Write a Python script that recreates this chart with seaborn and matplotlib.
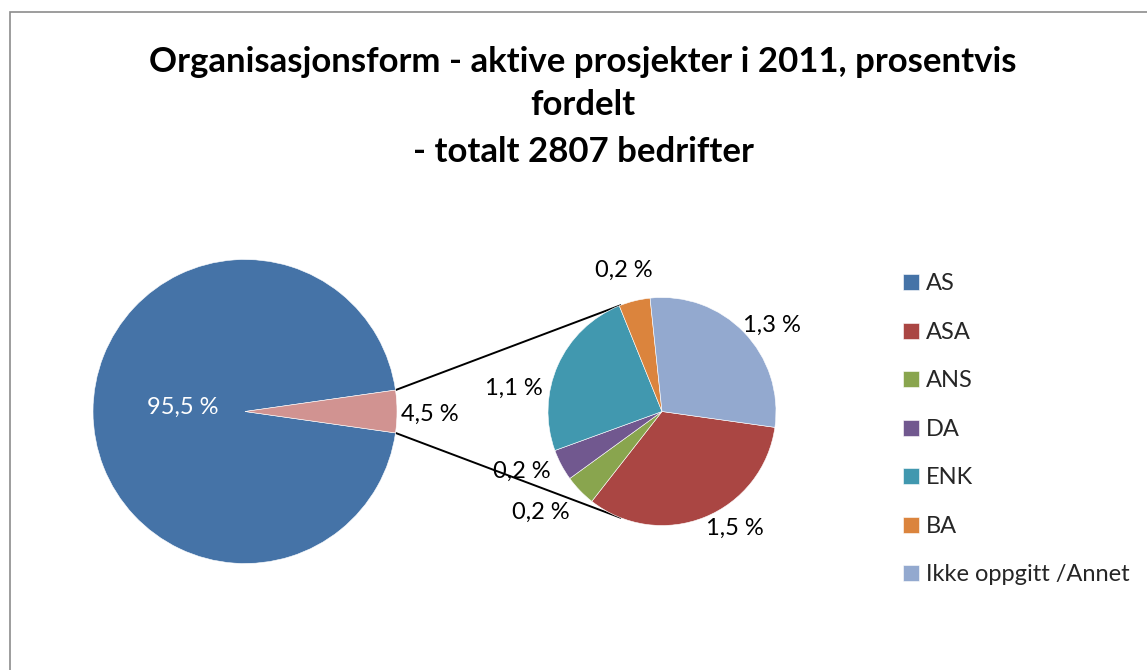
import numpy as np
import matplotlib
matplotlib.use("Agg")
import matplotlib.pyplot as plt
from matplotlib.patches import Rectangle
import seaborn as sns

# ---- data -------------------------------------------------------------
main_label = "AS"
main_value = 95.5
sub_labels = ["ASA", "ANS", "DA", "ENK", "BA", "Ikke oppgitt /Annet"]
sub_values = [1.5, 0.2, 0.2, 1.1, 0.2, 1.3]
title_lines = ["Organisasjonsform - aktive prosjekter i 2011, prosentvis",
               "fordelt",
               "- totalt 2807 bedrifter"]

# ---- style ------------------------------------------------------------
sns.set_theme(style="white")
plt.rcParams["font.family"] = ["Lato", "DejaVu Sans"]

main_colors = sns.color_palette(["#4573A7", "#D19391"])
sub_colors = sns.color_palette(["#AA4643", "#89A54E", "#71588F",
                                "#4198AF", "#DB843D", "#93A9CF"])

W, H = 1147, 670
fig = plt.figure(figsize=(W / 100, H / 100), dpi=100)
ax = fig.add_axes([0, 0, 1, 1])


def py(y):
    """Convert a top-down pixel row into the axes' y coordinate."""
    return H - y


# chart frame
ax.add_patch(Rectangle((10, py(H + 20)), W + 20, H + 8, fill=False,
                       edgecolor="#8C8C8C", linewidth=1.2))

# ---- main pie ---------------------------------------------------------
other_value = sum(sub_values)
main_vals = [main_value, other_value]
main_c = (245, py(411.5))
main_r = 152
main_start = other_value / (main_value + other_value) * 360 / 2
main_wedges, _ = ax.pie(main_vals, colors=main_colors, center=main_c,
                        radius=main_r, startangle=main_start,
                        wedgeprops=dict(edgecolor="white", linewidth=0.4),
                        frame=True)

# ---- secondary pie ----------------------------------------------------
sub_c = (662, py(411.5))
sub_r = 114
sub_wedges, _ = ax.pie(sub_values, colors=sub_colors, center=sub_c,
                       radius=sub_r, startangle=-8, counterclock=False,
                       wedgeprops=dict(edgecolor="white", linewidth=0.4),
                       frame=True)
ax.set_xlim(0, W)
ax.set_ylim(0, H)
ax.set_aspect("equal")
ax.axis("off")

# connector lines from the small slice to the secondary pie
other = main_wedges[1]
link_angle = 111
for a_main, a_sub in [(other.theta2, link_angle), (other.theta1, -link_angle)]:
    x0 = main_c[0] + main_r * np.cos(np.radians(a_main))
    y0 = main_c[1] + main_r * np.sin(np.radians(a_main))
    x1 = sub_c[0] + sub_r * np.cos(np.radians(a_sub))
    y1 = sub_c[1] + sub_r * np.sin(np.radians(a_sub))
    ax.plot([x0, x1], [y0, y1], color="black", linewidth=1.4,
            solid_capstyle="butt", zorder=0.5)


def pct(v):
    return f"{v:.1f} %".replace(".", ",")


label_fs = 17
# data labels
main_label_pos = [(183, 407), (430, 414)]
for v, (x, y), col in zip(main_vals, main_label_pos, ["white", "black"]):
    ax.text(x, py(y), pct(v), ha="center", va="center", fontsize=label_fs,
            color=col)

sub_label_pos = [(735, 528), (541, 512), (522, 471), (514, 388),
                 (624, 270), (772, 325)]
for v, (x, y) in zip(sub_values, sub_label_pos):
    ax.text(x, py(y), pct(v), ha="center", va="center", fontsize=label_fs,
            color="black")

# title
for line, y in zip(title_lines, [62, 105, 152]):
    ax.text(583, py(y), line, ha="center", va="center", fontsize=25,
            fontweight="bold", color="black")

# legend
handles = [main_wedges[0]] + list(sub_wedges)
labels = [main_label] + sub_labels
leg = ax.legend(handles, labels, loc="upper left",
                bbox_to_anchor=(894 / W, 1 - 264 / H),
                frameon=False, fontsize=label_fs, handlelength=0.65,
                handleheight=0.65, handletextpad=0.3, labelspacing=1.165,
                borderaxespad=0)

fig.savefig("out.png", dpi=100)
